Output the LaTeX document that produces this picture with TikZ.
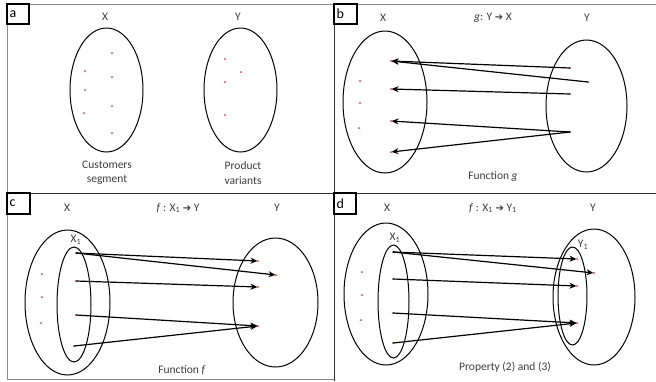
\documentclass[tikz,border=0pt]{standalone}
\usepackage{fontspec}
\setmainfont{Carlito}
\newfontfamily\arrowfont{DejaVu Sans}
\newcommand{\bigarr}{{\arrowfont\fontsize{10}{12}\selectfont ➔}}
\usetikzlibrary{shapes.geometric,arrows.meta}
\definecolor{dotc}{RGB}{225,110,110}
\definecolor{txt}{RGB}{60,60,60}
\begin{document}
\begin{tikzpicture}[x=1pt,y=-1pt,
  setshape/.style={draw=black,ellipse,line width=1pt,inner sep=0pt},
  pt/.style={circle,fill=dotc,inner sep=0pt,minimum size=2.5pt},
  lbl/.style={text=txt,font=\fontsize{11.5}{13}\selectfont,inner sep=0pt},
  panelbox/.style={draw=black,line width=1.9pt},
  plet/.style={font=\fontsize{14}{15}\selectfont,inner sep=0pt,anchor=west},
  arr/.style={-{Stealth[length=7pt,width=6pt]},line width=1.2pt,shorten >=0.5pt},
  frameline/.style={draw=black!45,line width=0.9pt},
  divline/.style={draw=black!80,line width=1pt}]
\useasboundingbox (0,0) rectangle (656,381);
% frame
\draw[frameline] (7,4) -- (656,4);
\draw[frameline] (7,4) -- (7,379);
\draw[frameline] (7,379) -- (334,379);
\draw[divline] (334,4) -- (334,381);
\draw[divline] (7,193) -- (656,193);
% panel label boxes
\draw[panelbox] (7,4) rectangle (29,24);
\node[plet] (la) at (9.5,14) {a};
\draw[panelbox] (334,4) rectangle (357,24);
\node[plet] (lb) at (336.5,14) {b};
\draw[panelbox] (7,193) rectangle (30,214);
\node[plet] (lc) at (9.5,203.5) {c};
\draw[panelbox] (334,193) rectangle (356,214);
\node[plet] (ld) at (336.5,203.5) {d};

% ---------- panel a ----------
\node[lbl] (aXl) at (105,17) {X};
\node[lbl] (aYl) at (238,17) {Y};
\node[setshape,minimum width=73pt,minimum height=124pt] (aX) at (106.5,90) {};
\node[setshape,minimum width=73pt,minimum height=124pt] (aY) at (240.5,90) {};
\node[pt] (ax1) at (112,53) {};
\node[pt] (ax2) at (85,71) {};
\node[pt] (ax3) at (112,77) {};
\node[pt] (ax4) at (85,90) {};
\node[pt] (ax5) at (112,106) {};
\node[pt] (ax6) at (84,113) {};
\node[pt] (ax7) at (112,133) {};
\node[pt] (ay1) at (225,59) {};
\node[pt] (ay2) at (241,72) {};
\node[pt] (ay3) at (225,82) {};
\node[pt] (ay4) at (225,115) {};
\node[lbl,align=center] (acap1) at (107,173) {Customers\\[1.5pt]segment};
\node[lbl,align=center] (acap2) at (243,173) {Product\\[1.5pt]variants};

% ---------- panel b ----------
\node[lbl] (bXl) at (383,18) {X};
\node[lbl] (bmap) at (493,18) {\textit{g}: Y \bigarr{} X};
\node[lbl] (bYl) at (587,18) {Y};
\node[setshape,minimum width=84pt,minimum height=142pt] (bX) at (385,102) {};
\node[setshape,minimum width=81pt,minimum height=132pt] (bY) at (586.5,106) {};
\node[pt] (bx1) at (391,61) {};
\node[pt] (bx2) at (360,81) {};
\node[pt] (bx3) at (391,89) {};
\node[pt] (bx4) at (360,103) {};
\node[pt] (bx5) at (391,121) {};
\node[pt] (bx6) at (359,128) {};
\node[pt] (bx7) at (391,152) {};
\node[pt] (by1) at (570,68) {};
\node[pt] (by2) at (588,82) {};
\node[pt] (by3) at (570,94) {};
\node[pt] (by4) at (570,132) {};
\draw[arr] (by1.center) -- (bx1.center);
\draw[arr] (by2.center) -- (bx1.center);
\draw[arr] (by3.center) -- (bx3.center);
\draw[arr] (by4.center) -- (bx5.center);
\draw[arr] (by4.center) -- (bx7.center);
\node[lbl] (bcap) at (493,177) {Function \textit{g}};

% ---------- panel c ----------
\node[lbl] (cXl) at (67,208) {X};
\node[lbl] (cmap) at (178,208) {\textit{f} : X\textsubscript{1} \bigarr{} Y};
\node[lbl] (cYl) at (277,208) {Y};
\node[setshape,minimum width=85pt,minimum height=145pt] (cX) at (67.5,302.5) {};
\node[setshape,minimum width=34pt,minimum height=115pt] (cX1) at (74,304.5) {};
\node[lbl] (cX1l) at (76,240) {X\textsubscript{1}};
\node[setshape,minimum width=85pt,minimum height=129pt] (cY) at (275.5,302.5) {};
\node[pt] (cx1) at (42,274) {};
\node[pt] (cx2) at (42,297) {};
\node[pt] (cx3) at (41,323) {};
\node[pt] (cp1) at (76,253) {};
\node[pt] (cp2) at (76,281) {};
\node[pt] (cp3) at (76,315) {};
\node[pt] (cp4) at (74,346) {};
\node[pt] (cy1) at (258,261) {};
\node[pt] (cy2) at (276,275) {};
\node[pt] (cy3) at (258,287) {};
\node[pt] (cy4) at (258,326) {};
\draw[arr] (cp1.center) -- (cy1.center);
\draw[arr] (cp1.center) -- (cy2.center);
\draw[arr] (cp2.center) -- (cy3.center);
\draw[arr] (cp3.center) -- (cy4.center);
\draw[arr] (cp4.center) -- (cy4.center);
\node[lbl] (ccap) at (182,370) {Function \textit{f}};

% ---------- panel d ----------
\node[lbl] (dXl) at (387,208) {X};
\node[lbl] (dmap) at (493,208) {\textit{f} : X\textsubscript{1} \bigarr{} Y\textsubscript{1}};
\node[lbl] (dYl) at (593,208) {Y};
\node[setshape,minimum width=84pt,minimum height=142pt] (dX) at (386,294) {};
\node[setshape,minimum width=31pt,minimum height=113pt] (dX1) at (393.5,301.5) {};
\node[lbl] (dX1l) at (395,238) {X\textsubscript{1}};
\node[setshape,minimum width=82pt,minimum height=136pt] (dY) at (594,297) {};
\node[setshape,minimum width=29pt,minimum height=98pt] (dY1) at (572.5,296) {};
\node[lbl] (dY1l) at (583,245) {Y\textsubscript{1}};
\node[pt] (dx1) at (362,272) {};
\node[pt] (dx2) at (362,295) {};
\node[pt] (dx3) at (361,320) {};
\node[pt] (dp1) at (393,252) {};
\node[pt] (dp2) at (393,279) {};
\node[pt] (dp3) at (393,313) {};
\node[pt] (dp4) at (393,343) {};
\node[pt] (dy1) at (577,259) {};
\node[pt] (dy2) at (594,273) {};
\node[pt] (dy3) at (577,286) {};
\node[pt] (dy4) at (577,323) {};
\draw[arr] (dp1.center) -- (dy1.center);
\draw[arr] (dp1.center) -- (dy2.center);
\draw[arr] (dp2.center) -- (dy3.center);
\draw[arr] (dp3.center) -- (dy4.center);
\draw[arr] (dp4.center) -- (dy4.center);
\node[lbl] (dcap) at (505,367) {Property (2) and (3)};
\end{tikzpicture}
\end{document}
